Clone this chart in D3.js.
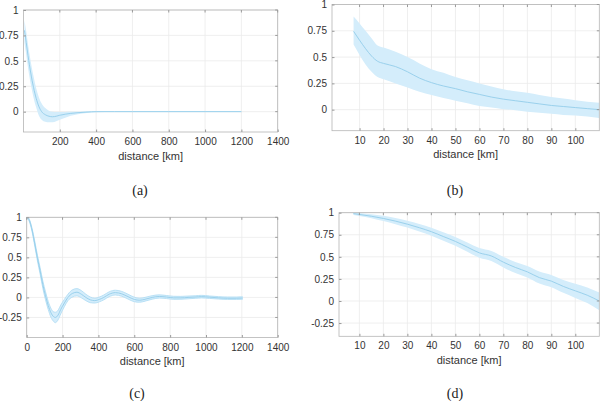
<!DOCTYPE html>
<html><head><meta charset="utf-8">
<script src="https://cdn.jsdelivr.net/npm/d3@7"></script>
<style>body{margin:0;background:#fff}svg{display:block}</style>
</head><body>
<svg id="c" width="600" height="401"></svg>
<script>
// ---------- data ----------
// panel (a)
const aX    = [5, 15, 25, 40, 55, 70, 85, 100, 120, 140, 160, 180, 200, 230, 260, 300, 350, 400, 500, 600, 800, 1000, 1200];
const aMean = [0.8, 0.68, 0.55, 0.38, 0.24, 0.13, 0.05, 0.0, -0.03, -0.045, -0.05, -0.045, -0.035, -0.025, -0.017, -0.01, -0.004, 0, 0, 0, 0, 0, 0];
const aHigh = [0.9, 0.79, 0.66, 0.49, 0.35, 0.23, 0.14, 0.08, 0.035, 0.01, 0.0, -0.003, -0.004, -0.003, -0.002, 0.0, 0.003, 0.005, 0.004, 0.004, 0.003, 0.003, 0.003];
const aLow  = [0.68, 0.56, 0.43, 0.27, 0.14, 0.04, -0.04, -0.08, -0.1, -0.105, -0.105, -0.095, -0.08, -0.06, -0.04, -0.025, -0.012, -0.006, -0.004, -0.004, -0.003, -0.003, -0.003];
// panel (b)
const bX    = [7.5, 10, 12.5, 15, 17.5, 20, 25, 30, 35, 40, 45, 50, 55, 60, 65, 70, 75, 80, 85, 90, 95, 100, 105, 110];
const bMean = [0.745, 0.66, 0.58, 0.51, 0.46, 0.44, 0.41, 0.36, 0.3, 0.257, 0.225, 0.2, 0.17, 0.145, 0.12, 0.1, 0.085, 0.07, 0.055, 0.04, 0.03, 0.02, 0.01, 0.0];
const bHigh = [0.885, 0.82, 0.75, 0.68, 0.61, 0.59, 0.55, 0.5, 0.44, 0.385, 0.35, 0.31, 0.28, 0.25, 0.22, 0.195, 0.175, 0.16, 0.14, 0.12, 0.105, 0.09, 0.075, 0.066];
const bLow  = [0.62, 0.52, 0.43, 0.36, 0.31, 0.29, 0.25, 0.21, 0.17, 0.14, 0.11, 0.085, 0.06, 0.035, 0.02, 0.005, -0.005, -0.02, -0.03, -0.04, -0.05, -0.055, -0.065, -0.08];
// panel (c)
const cX    = [0, 15, 30, 45, 60, 75, 90, 105, 120, 135, 150, 160, 175, 190, 210, 230, 255, 280, 305, 330, 355, 380, 405, 430, 460, 495, 530, 565, 600, 630, 665, 700, 740, 780, 820, 860, 900, 940, 975, 1020, 1070, 1120, 1170, 1205];
const cMean = [1.0, 0.96, 0.84, 0.67, 0.49, 0.33, 0.16, 0.02, -0.1, -0.19, -0.24, -0.25, -0.22, -0.15, -0.07, 0.0, 0.05, 0.065, 0.04, 0.0, -0.03, -0.04, -0.025, 0.0, 0.04, 0.06, 0.045, 0.01, -0.025, -0.035, -0.02, 0.0, 0.012, 0.005, -0.005, -0.005, 0.0, 0.005, 0.01, 0.003, -0.005, -0.01, -0.01, -0.008];
const cHigh = [1.01, 0.975, 0.86, 0.7, 0.525, 0.37, 0.205, 0.07, -0.05, -0.135, -0.18, -0.185, -0.16, -0.095, -0.025, 0.04, 0.095, 0.11, 0.085, 0.04, 0.005, -0.01, 0.005, 0.03, 0.07, 0.09, 0.075, 0.04, 0.003, -0.01, 0.003, 0.022, 0.032, 0.024, 0.014, 0.013, 0.017, 0.021, 0.026, 0.018, 0.01, 0.005, 0.005, 0.007];
const cLow  = [0.99, 0.945, 0.82, 0.64, 0.455, 0.29, 0.115, -0.03, -0.15, -0.245, -0.3, -0.315, -0.28, -0.205, -0.115, -0.04, 0.005, 0.02, -0.005, -0.04, -0.065, -0.07, -0.055, -0.03, 0.01, 0.03, 0.015, -0.02, -0.053, -0.06, -0.043, -0.022, -0.008, -0.014, -0.024, -0.023, -0.017, -0.011, -0.006, -0.012, -0.02, -0.025, -0.025, -0.023];
// panel (d)
const dX    = [7.5, 10, 15, 20, 25, 30, 35, 40, 45, 50, 55, 60, 65, 70, 75, 80, 85, 90, 95, 100, 105, 110];
const dMean = [0.99, 0.98, 0.96, 0.935, 0.905, 0.87, 0.83, 0.785, 0.73, 0.675, 0.61, 0.545, 0.51, 0.44, 0.38, 0.33, 0.265, 0.225, 0.165, 0.115, 0.065, 0.0];
const dHigh = [1.005, 0.996, 0.982, 0.965, 0.94, 0.908, 0.872, 0.83, 0.778, 0.725, 0.662, 0.6, 0.567, 0.5, 0.443, 0.395, 0.333, 0.295, 0.238, 0.195, 0.153, 0.095];
const dLow  = [0.975, 0.964, 0.938, 0.905, 0.87, 0.832, 0.788, 0.74, 0.682, 0.625, 0.558, 0.49, 0.453, 0.38, 0.317, 0.265, 0.197, 0.155, 0.092, 0.035, -0.023, -0.105];

const xTicksA = [200, 400, 600, 800, 1000, 1200, 1400];
const xTicksC = [0, 200, 400, 600, 800, 1000, 1200, 1400];
const xTicksB = [10, 20, 30, 40, 50, 60, 70, 80, 90, 100];
const yTicksAB = [0, 0.25, 0.5, 0.75, 1];
const yTicksCD = [-0.25, 0, 0.25, 0.5, 0.75, 1];
const captions = ["(a)", "(b)", "(c)", "(d)"];
const xLabel = "distance [km]";

// ---------- drawing ----------
const svg = d3.select("#c");
const FILL = "#d4edfb", LINE = "#93cdea", EDGE = "#b3def4";

function panel(o) {
  const x = d3.scaleLinear().domain(o.xd).range([o.l, o.r]);
  const y = d3.scaleLinear().domain(o.yd).range([o.b, o.t]);
  const g = svg.append("g");
  // grid
  g.selectAll(".gx").data(o.xt).join("line")
    .attr("x1", d => x(d)).attr("x2", d => x(d)).attr("y1", o.t).attr("y2", o.b)
    .attr("stroke", "#ebebeb").attr("stroke-width", 0.8);
  g.selectAll(".gy").data(o.yt).join("line")
    .attr("y1", d => y(d)).attr("y2", d => y(d)).attr("x1", o.l).attr("x2", o.r)
    .attr("stroke", "#ebebeb").attr("stroke-width", 0.8);
  // band
  const pts = o.X.map((v, i) => ({x: v, m: o.M[i], lo: o.L[i], hi: o.H[i]}));
  const clipId = "clip" + o.id;
  svg.append("clipPath").attr("id", clipId).append("rect")
    .attr("x", o.l).attr("y", o.t).attr("width", o.r - o.l).attr("height", o.b - o.t);
  const cg = g.append("g").attr("clip-path", `url(#${clipId})`);
  cg.append("path").datum(pts)
    .attr("d", d3.area().curve(d3.curveMonotoneX).x(d => x(d.x)).y0(d => y(d.lo)).y1(d => y(d.hi)))
    .attr("fill", FILL);
  if (o.edges) {
    ["lo", "hi"].forEach(k => cg.append("path").datum(pts)
      .attr("d", d3.line().curve(d3.curveMonotoneX).x(d => x(d.x)).y(d => y(d[k])))
      .attr("fill", "none").attr("stroke", EDGE).attr("stroke-width", 0.9));
  }
  cg.append("path").datum(pts)
    .attr("d", d3.line().curve(d3.curveMonotoneX).x(d => x(d.x)).y(d => y(d.m)))
    .attr("fill", "none").attr("stroke", LINE).attr("stroke-width", 0.9);
  // box
  g.append("rect").attr("x", o.l).attr("y", o.t).attr("width", o.r - o.l).attr("height", o.b - o.t)
    .attr("fill", "none").attr("stroke", "#b5b5b5").attr("stroke-width", 0.8);
  // axes (ticks inward)
  const ax = g.append("g").attr("transform", `translate(0,${o.b})`)
    .call(d3.axisBottom(x).tickValues(o.xt).tickSize(-2.5).tickPadding(6).tickFormat(d3.format("d")));
  const ay = g.append("g").attr("transform", `translate(${o.l},0)`)
    .call(d3.axisLeft(y).tickValues(o.yt).tickSize(-2.5).tickPadding(5).tickFormat(d => String(d)));
  [ax, ay].forEach(a => {
    a.select(".domain").remove();
    a.selectAll("line").attr("stroke", "#9a9a9a");
    a.selectAll("text").attr("fill", "#333").attr("font-family", "Liberation Sans, Arial, sans-serif").attr("font-size", 10);
  });
  ax.selectAll("text").attr("dy", "0.71em").attr("y", 6);
  // top/right ticks
  g.selectAll(".tt").data(o.xt).join("line").attr("x1", d => x(d)).attr("x2", d => x(d))
    .attr("y1", o.t).attr("y2", o.t + 2.5).attr("stroke", "#9a9a9a");
  g.selectAll(".rt").data(o.yt).join("line").attr("y1", d => y(d)).attr("y2", d => y(d))
    .attr("x1", o.r).attr("x2", o.r - 2.5).attr("stroke", "#9a9a9a");
  // labels
  g.append("text").attr("x", (o.l + o.r) / 2).attr("y", o.b + 27.5).attr("text-anchor", "middle")
    .attr("font-family", "Liberation Sans, Arial, sans-serif").attr("font-size", 11).attr("fill", "#333").text(xLabel);
  g.append("text").attr("x", o.cx).attr("y", o.cy).attr("text-anchor", "middle")
    .attr("font-family", "Liberation Serif, Times New Roman, serif").attr("font-size", 14).attr("fill", "#222").text(o.cap);
}

panel({id: "a", X: aX, M: aMean, L: aLow, H: aHigh, xd: [0, 1400], yd: [-0.2, 1], l: 23.5, r: 277.7, t: 10, b: 132,
  xt: xTicksA, yt: yTicksAB, cap: captions[0], cx: 140, cy: 195});
panel({id: "b", X: bX, M: bMean, L: bLow, H: bHigh, xd: [-1.5, 110], yd: [-0.2, 1], l: 332, r: 599.3, t: 4.5, b: 130.7,
  xt: xTicksB, yt: yTicksAB, cap: captions[1], cx: 455, cy: 195});
panel({id: "c", X: cX, M: cMean, L: cLow, H: cHigh, xd: [0, 1400], yd: [-0.5, 1], l: 26.7, r: 277.7, t: 217.3, b: 337.5,
  xt: xTicksC, yt: yTicksCD, cap: captions[2], cx: 137, cy: 398, edges: true});
panel({id: "d", X: dX, M: dMean, L: dLow, H: dHigh, xd: [1.5, 110], yd: [-0.4, 1], l: 339, r: 599.3, t: 212.7, b: 336.3,
  xt: xTicksB, yt: yTicksCD, cap: captions[3], cx: 455, cy: 398});
</script>
</body></html>
